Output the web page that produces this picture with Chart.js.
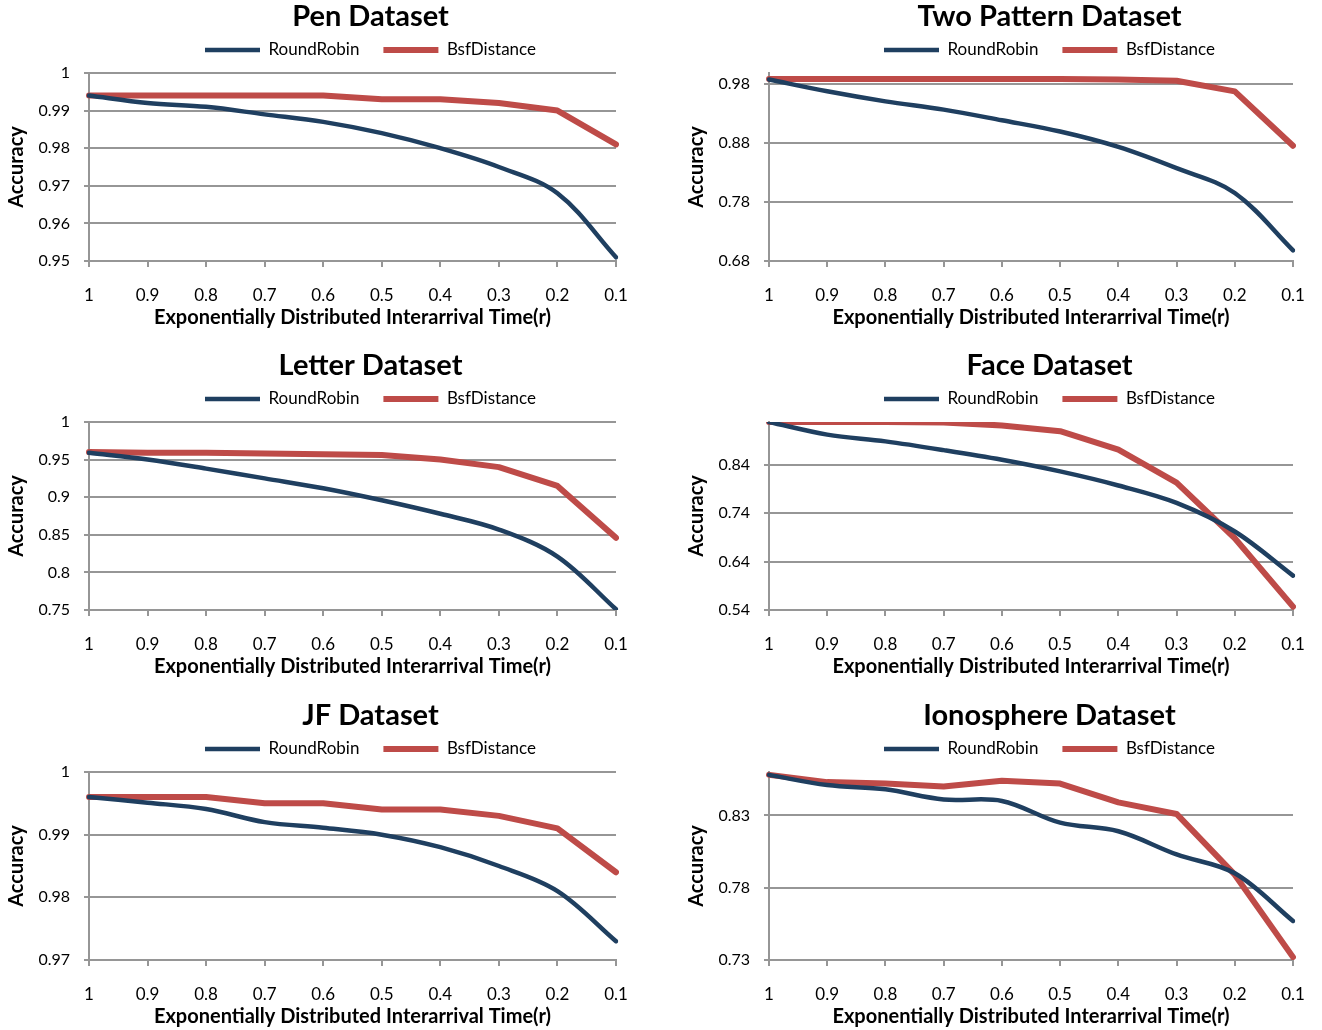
<!DOCTYPE html>
<html>
<head>
    <title>Dataset Accuracy</title>
    <script src="https://cdn.jsdelivr.net/npm/chart.js"></script>
    <style>
        body { margin: 0; background: #fff; overflow: hidden; width: 1322px; height: 1030px; position: relative; }
        canvas { position: absolute; }
    </style>
</head>
<body>
    <canvas id="pen" width="736" height="330" style="left:0;top:0"></canvas>
    <canvas id="twoPattern" width="734" height="330" style="left:680px;top:0"></canvas>
    <canvas id="letter" width="736" height="330" style="left:0;top:349px"></canvas>
    <canvas id="face" width="734" height="330" style="left:680px;top:349px"></canvas>
    <canvas id="jf" width="736" height="330" style="left:0;top:699px"></canvas>
    <canvas id="ionosphere" width="734" height="330" style="left:680px;top:699px"></canvas>

    <script>
        // interarrival time r (x axis)
        const rLabels = ['1', '0.9', '0.8', '0.7', '0.6', '0.5', '0.4', '0.3', '0.2', '0.1'];

        const penRoundRobin = [0.994, 0.992, 0.991, 0.989, 0.987, 0.984, 0.980, 0.975, 0.968, 0.951];
        const penBsf        = [0.994, 0.994, 0.994, 0.994, 0.994, 0.993, 0.993, 0.992, 0.990, 0.981];
        const penTicks      = [0.95, 0.96, 0.97, 0.98, 0.99, 1];

        const twoRoundRobin = [0.987, 0.967, 0.950, 0.936, 0.918, 0.899, 0.873, 0.837, 0.795, 0.698];
        const twoBsf        = [0.988, 0.988, 0.988, 0.988, 0.988, 0.988, 0.987, 0.985, 0.967, 0.875];
        const twoTicks      = [0.68, 0.78, 0.88, 0.98];

        const letterRoundRobin = [0.959, 0.950, 0.938, 0.925, 0.912, 0.896, 0.878, 0.857, 0.821, 0.751];
        const letterBsf        = [0.960, 0.959, 0.959, 0.958, 0.957, 0.956, 0.950, 0.940, 0.915, 0.846];
        const letterTicks      = [0.75, 0.8, 0.85, 0.9, 0.95, 1];

        const faceRoundRobin = [0.928, 0.902, 0.888, 0.870, 0.850, 0.826, 0.797, 0.761, 0.702, 0.611];
        const faceBsf        = [0.928, 0.928, 0.928, 0.927, 0.921, 0.909, 0.871, 0.803, 0.688, 0.547];
        const faceTicks      = [0.54, 0.64, 0.74, 0.84];

        const jfRoundRobin = [0.996, 0.9951, 0.9941, 0.992, 0.9911, 0.990, 0.988, 0.985, 0.981, 0.973];
        const jfBsf        = [0.996, 0.996, 0.996, 0.995, 0.995, 0.994, 0.994, 0.993, 0.991, 0.984];
        const jfTicks      = [0.97, 0.98, 0.99, 1];

        const ionoRoundRobin = [0.858, 0.851, 0.848, 0.841, 0.840, 0.825, 0.819, 0.803, 0.790, 0.757];
        const ionoBsf        = [0.858, 0.853, 0.852, 0.850, 0.854, 0.852, 0.839, 0.831, 0.789, 0.732];
        const ionoTicks      = [0.73, 0.78, 0.83];

        const blue = '#1F3F60';
        const red = '#BE4B48';
        const gridColor = '#969696';

        Chart.defaults.font.family = 'Lato, "Open Sans", sans-serif';
        Chart.defaults.color = '#000';

        // legend keeps wide spacing between items but a fixed height
        const legendHeightPlugin = {
            id: 'legendHeight',
            beforeLayout(chart) {
                const lg = chart.legend;
                if (lg && !lg._fixedHeight) {
                    const fit = lg.fit.bind(lg);
                    lg.fit = function () { fit(); this.height = 55.5; };
                    lg._fixedHeight = true;
                }
            }
        };

        function drawChart(id, title, roundRobin, bsf, ticks, yMax, rightSpace) {
            const ctx = document.getElementById(id).getContext('2d');
            return new Chart(ctx, {
                type: 'line',
                data: {
                    labels: rLabels,
                    datasets: [{
                        label: 'RoundRobin',
                        data: roundRobin,
                        borderColor: blue,
                        backgroundColor: blue,
                        borderWidth: 4.5,
                        tension: 0.35,
                        pointRadius: 0,
                        borderCapStyle: 'round',
                        borderJoinStyle: 'round',
                        fill: false
                    }, {
                        label: 'BsfDistance',
                        data: bsf,
                        borderColor: red,
                        backgroundColor: red,
                        borderWidth: 6,
                        tension: 0,
                        pointRadius: 0,
                        borderCapStyle: 'round',
                        borderJoinStyle: 'round',
                        fill: false
                    }]
                },
                options: {
                    responsive: false,
                    animation: false,
                    devicePixelRatio: 1,
                    layout: { padding: { left: 5, right: 0, top: 0, bottom: 0 } },
                    plugins: {
                        title: {
                            display: true,
                            text: title,
                            font: { size: 29, weight: 'bold' },
                            padding: { top: -1, bottom: -16.3 }
                        },
                        legend: {
                            display: true,
                            labels: {
                                usePointStyle: true,
                                pointStyle: 'line',
                                pointStyleWidth: 55,
                                font: { size: 17 },
                                padding: 24
                            }
                        },
                        tooltip: { enabled: false }
                    },
                    scales: {
                        x: {
                            afterFit: axis => { axis.height = 69; },
                            grid: { drawOnChartArea: false, drawTicks: true, tickLength: 6, color: gridColor, lineWidth: 2 },
                            border: { color: gridColor, width: 2 },
                            ticks: { font: { size: 17 }, padding: 18, maxRotation: 0, autoSkip: false },
                            title: {
                                display: true,
                                text: 'Exponentially Distributed Interarrival Time(r)',
                                font: { size: 20, weight: 'bold' },
                                padding: { top: 0, bottom: 0 }
                            }
                        },
                        y: {
                            min: ticks[0],
                            max: yMax,
                            afterBuildTicks: axis => { axis.ticks = ticks.map(v => ({ value: v })); },
                            afterFit: axis => { axis.width = 84; },
                            grid: { color: gridColor, lineWidth: 2, tickLength: 5 },
                            border: { color: gridColor, width: 2 },
                            ticks: { font: { size: 16 }, padding: 14, callback: v => String(v) },
                            title: {
                                display: true,
                                text: 'Accuracy',
                                font: { size: 20, weight: 'bold' },
                                padding: { top: 0, bottom: 0 }
                            }
                        },
                        // empty right-hand space so the title and legend sit where they do in the original
                        spacer: {
                            type: 'linear',
                            position: 'right',
                            afterFit: axis => { axis.width = rightSpace; },
                            grid: { display: false },
                            border: { display: false },
                            ticks: { display: false }
                        }
                    }
                },
                plugins: [legendHeightPlugin]
            });
        }

        drawChart('pen', 'Pen Dataset', penRoundRobin, penBsf, penTicks, 1, 120);
        drawChart('twoPattern', 'Two Pattern Dataset', twoRoundRobin, twoBsf, twoTicks, 0.998, 121);
        drawChart('letter', 'Letter Dataset', letterRoundRobin, letterBsf, letterTicks, 1, 120);
        drawChart('face', 'Face Dataset', faceRoundRobin, faceBsf, faceTicks, 0.928, 121);
        drawChart('jf', 'JF Dataset', jfRoundRobin, jfBsf, jfTicks, 1, 120);
        drawChart('ionosphere', 'Ionosphere Dataset', ionoRoundRobin, ionoBsf, ionoTicks, 0.86, 121);
    </script>
</body>
</html>
